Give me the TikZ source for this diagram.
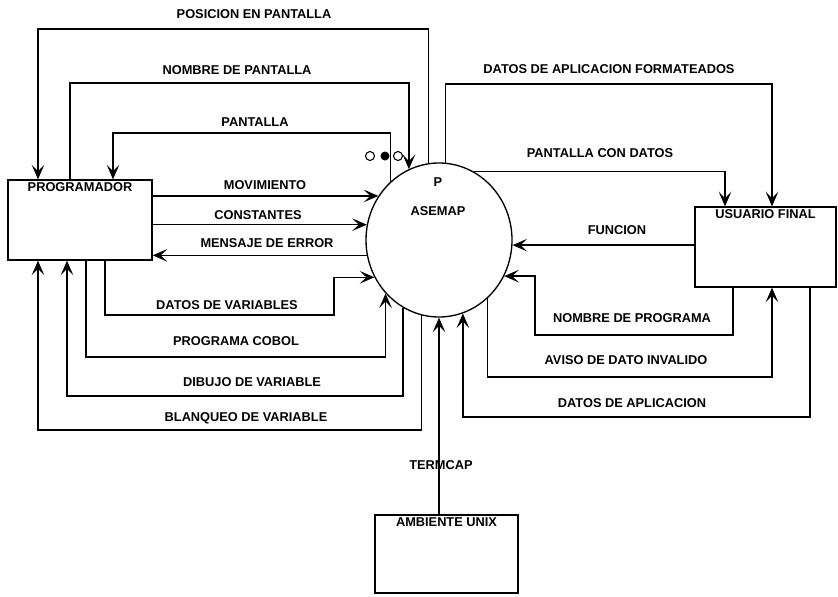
\documentclass[tikz,border=0pt]{standalone}
\usepackage{fontspec}
\setmainfont{Liberation Sans}
\usetikzlibrary{shapes.geometric, arrows.meta, positioning, calc}

\begin{document}
\begin{tikzpicture}[x=0.75pt, y=-0.75pt,
    flow/.style={line width=1pt, -{Stealth[length=11pt, width=9.5pt, inset=5pt]}},
    lbl/.style={font=\fontsize{9.6}{11}\selectfont\bfseries, inner sep=0pt},
    entity/.style={draw, line width=1pt, rectangle, inner sep=0pt},
    title/.style={lbl, anchor=north, yshift=-2.5pt}]
    \useasboundingbox (0,0) rectangle (838,596);

    % Entities and process
    \node[entity, minimum width=108pt, minimum height=60pt,
          label={[title]north:PROGRAMADOR}] (prog) at (80,220) {};
    \node[entity, minimum width=105.75pt, minimum height=60pt,
          label={[title]north:USUARIO FINAL}] (usr) at (765.5,247) {};
    \node[entity, minimum width=107.25pt, minimum height=58.5pt,
          label={[title]north:AMBIENTE UNIX}] (unix) at (446.5,554) {};
    \node[draw, ellipse, line width=1pt, minimum width=109.5pt,
          minimum height=115.5pt, inner sep=0pt] (asemap) at (439,240) {};
    \node[lbl] (pnum) at (438,182) {P};
    \node[lbl] (pname) at (438,211) {ASEMAP};

    % Small marks over the process
    \draw[line width=0.8pt] (370,156) circle[radius=4.5];
    \fill (385,156) circle[radius=4.5];
    \draw[line width=0.8pt] (398,156) circle[radius=4.5];

    % Programador <-> ASEMAP (top)
    \draw[flow] (asemap.98) |- (38,29) -- (prog.north -| 38,0);
    \node[lbl] at (254,14) {POSICION EN PANTALLA};
    \draw[flow] (prog.north -| 70,0) |- (asemap.113 |- 0,83) -- (asemap.113);
    \node[lbl] at (237,70) {NOMBRE DE PANTALLA};
    \draw[flow] (asemap.130) |- (113,133) -- (prog.north -| 113,0);
    \node[lbl] at (255,122) {PANTALLA};

    % Programador <-> ASEMAP (side)
    \draw[flow] (prog.east |- asemap.144) -- (asemap.144);
    \node[lbl] at (265,185) {MOVIMIENTO};
    \draw[flow] (prog.east |- asemap.168) -- (asemap.168);
    \node[lbl] at (258,215) {CONSTANTES};
    \draw[flow] (asemap.192) -- (prog.east |- asemap.192);
    \node[lbl] at (267,243) {MENSAJE DE ERROR};

    % Programador <-> ASEMAP (bottom)
    \draw[flow] (prog.south -| 105,0) |- (334,315) |- (asemap.210);
    \node[lbl] at (227,305) {DATOS DE VARIABLES};
    \draw[flow] (prog.south -| 86,0) |- (asemap.225 |- 0,357) -- (asemap.225);
    \node[lbl] at (236,341) {PROGRAMA COBOL};
    \draw[flow] (asemap.242) |- (67,396) -- (prog.south -| 67,0);
    \node[lbl] at (252,382) {DIBUJO DE VARIABLE};
    \draw[flow] (asemap.257) |- (38,430) -- (prog.south -| 38,0);
    \node[lbl] at (246,418) {BLANQUEO DE VARIABLE};

    % ASEMAP <-> Usuario final
    \draw[flow] (asemap.85) |- (772,84) -- (usr.north -| 772,0);
    \node[lbl] at (609,69) {DATOS DE APLICACION FORMATEADOS};
    \draw[flow] (asemap.63) -| (usr.north -| 725,0);
    \node[lbl] at (600,153) {PANTALLA CON DATOS};
    \draw[flow] (usr.west |- asemap.356) -- (asemap.356);
    \node[lbl] at (617,230) {FUNCION};
    \draw[flow] (usr.south -| 733,0) |- (535,335) |- (asemap.331);
    \node[lbl] at (632,318) {NOMBRE DE PROGRAMA};
    \draw[flow] (asemap.310) |- (772,377) -- (usr.south -| 772,0);
    \node[lbl] at (626,360) {AVISO DE DATO INVALIDO};
    \draw[flow] (usr.south -| 810,0) |- (asemap.288 |- 0,417) -- (asemap.288);
    \node[lbl] at (632,403) {DATOS DE APLICACION};

    % Ambiente Unix -> ASEMAP
    \draw[flow] (unix.north -| asemap.south) -- (asemap.south);
    \node[lbl] at (441,465) {TERMCAP};
\end{tikzpicture}
\end{document}
